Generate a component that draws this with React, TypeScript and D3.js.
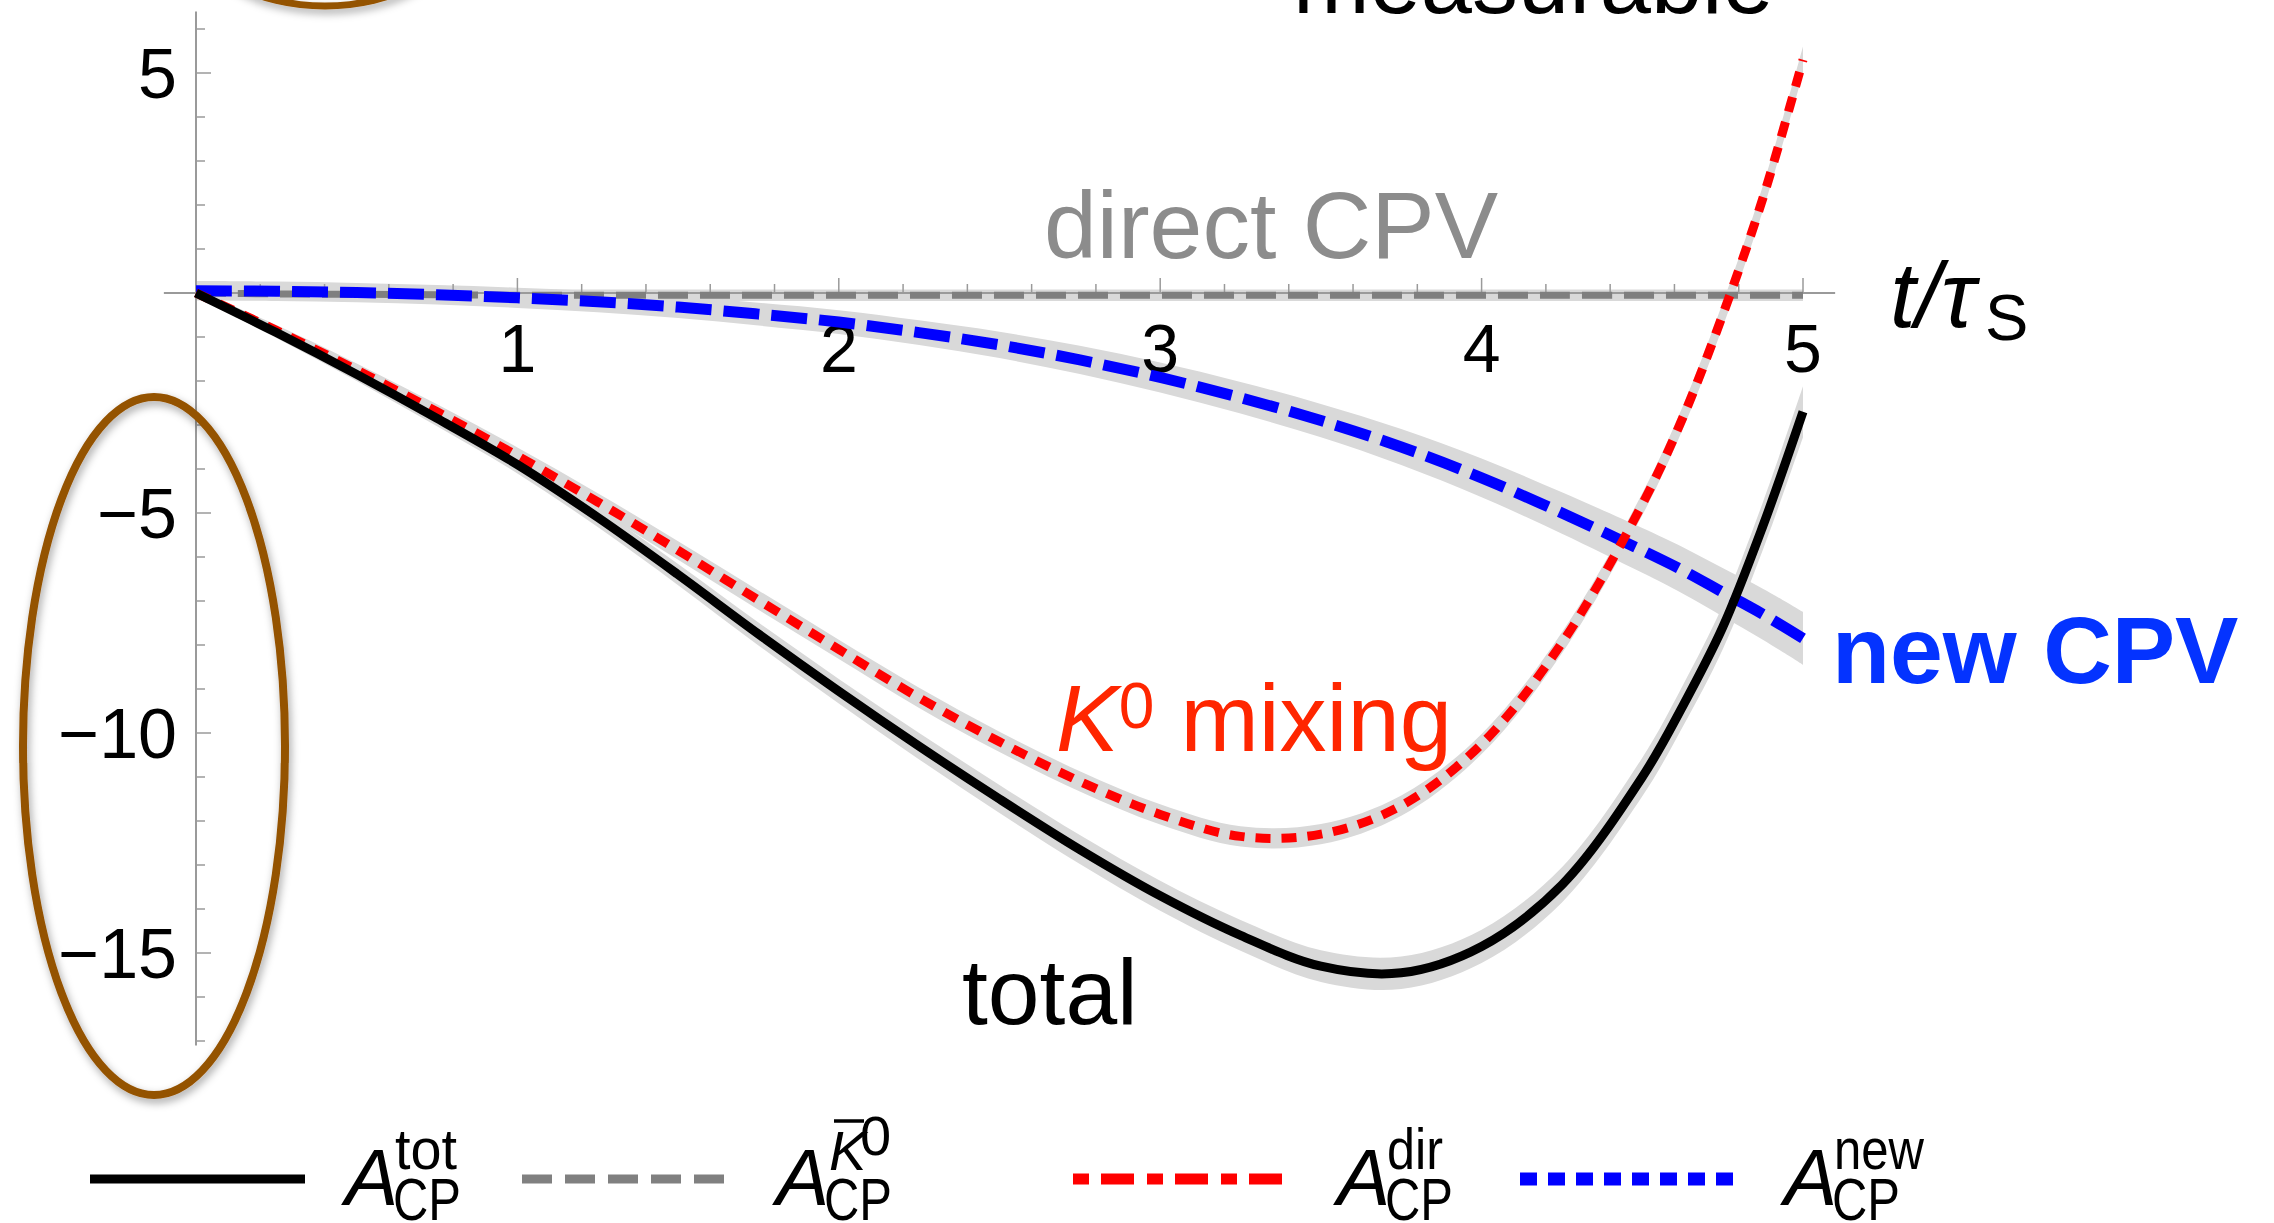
import React from 'react';
import * as d3 from 'd3';

// canvas
const W = 2274;
const H = 1223;
const FONT = "'Liberation Sans', Arial, Helvetica, sans-serif";

// time grid (t / tau_S)
const tValues = [0, 0.25, 0.5, 0.75, 1, 1.25, 1.5, 1.75, 2, 2.25, 2.5, 2.75, 3, 3.25, 3.5, 3.75, 4, 4.25, 4.5, 4.625, 4.75, 4.875, 5];

// asymmetries
const totValues = [0, -0.9, -1.85, -2.85, -3.9, -5.1, -6.4, -7.75, -9.05, -10.3, -11.5, -12.65, -13.7, -14.6, -15.3, -15.45, -14.85, -13.45, -11.0, -9.4, -7.6, -5.3, -2.7];
const mixValues = [0, -0.85, -1.75, -2.7, -3.7, -4.75, -5.85, -6.98, -8.1, -9.2, -10.2, -11.1, -11.85, -12.35, -12.3, -11.65, -10.25, -7.95, -4.8, -2.85, -0.5, 2.15, 5.3];
const newValues = [0.05, 0.04, 0.01, -0.04, -0.11, -0.2, -0.32, -0.48, -0.66, -0.9, -1.18, -1.52, -1.92, -2.38, -2.9, -3.5, -4.2, -5.0, -5.85, -6.3, -6.8, -7.3, -7.85];
const dirValues = [0, -0.02, -0.03, -0.04, -0.05, -0.05, -0.05, -0.05, -0.05, -0.05, -0.05, -0.05, -0.05, -0.05, -0.05, -0.05, -0.05, -0.05, -0.05, -0.05, -0.05, -0.05, -0.05];

// uncertainty half-widths (gray bands)
const totBand = [0.08, 0.12, 0.15, 0.18, 0.2, 0.22, 0.24, 0.26, 0.28, 0.3, 0.32, 0.33, 0.34, 0.35, 0.36, 0.37, 0.38, 0.4, 0.44, 0.47, 0.5, 0.54, 0.58];
const mixBand = [0.08, 0.12, 0.15, 0.17, 0.19, 0.2, 0.21, 0.22, 0.22, 0.23, 0.23, 0.23, 0.23, 0.23, 0.23, 0.23, 0.23, 0.24, 0.25, 0.26, 0.27, 0.28, 0.3];
const newBand = [0.22, 0.22, 0.22, 0.22, 0.23, 0.24, 0.25, 0.26, 0.27, 0.28, 0.3, 0.32, 0.34, 0.36, 0.38, 0.41, 0.44, 0.47, 0.51, 0.53, 0.55, 0.58, 0.6];
const dirBand = [0.13, 0.13, 0.13, 0.13, 0.13, 0.13, 0.13, 0.13, 0.13, 0.13, 0.13, 0.13, 0.13, 0.13, 0.13, 0.13, 0.13, 0.13, 0.13, 0.13, 0.13, 0.13, 0.13];

// axes
const xTickLabels = [1, 2, 3, 4, 5];
const yTickLabels = [5, -5, -10, -15];

const series = [
  { key: 'dir', values: dirValues, band: dirBand, color: '#7f7f7f', width: 7, dash: '30 12' },
  { key: 'new', values: newValues, band: newBand, color: '#0000ff', width: 11, dash: '36 12' },
  { key: 'mix', values: mixValues, band: mixBand, color: '#ff0000', width: 9, dash: '15 11' },
  { key: 'tot', values: totValues, band: totBand, color: '#000000', width: 9, dash: null },
];

const fmt = (v: number) => (v < 0 ? '\u2212' : '') + Math.abs(v);

export default function App() {
  const x = d3.scaleLinear().domain([0, 5]).range([196, 1803]);
  const y = d3.scaleLinear().domain([5, -15]).range([73, 953]);

  const curve = d3.curveCatmullRom.alpha(0.5);

  const line = (vals: number[]) =>
    d3.line<number>()
      .x((_, i) => x(tValues[i]))
      .y(d => y(d))
      .curve(curve)(vals) || '';

  const band = (vals: number[], hw: number[]) =>
    d3.area<number>()
      .x((_, i) => x(tValues[i]))
      .y0((d, i) => y(d - hw[i]))
      .y1((d, i) => y(d + hw[i]))
      .curve(curve)(vals) || '';

  const xMinor = d3.range(1, 26).map(i => i * 0.2).filter(v => Math.abs(v - Math.round(v)) > 1e-6);
  const yMinor = d3.range(-17, 7).filter(v => v % 5 !== 0);

  const axisColor = '#9a9a9a';

  const legend = [
    { x0: 90, x1: 305, color: '#000', width: 9, dash: null, ax: 345, sup: 'tot', supW: 62 },
    { x0: 522, x1: 727, color: '#808080', width: 9, dash: '30 13', ax: 776, sup: 'K0', supW: 0 },
    { x0: 1073, x1: 1282, color: '#ff0000', width: 11, dash: '16 12 33 13', ax: 1337, sup: 'dir', supW: 56 },
    { x0: 1520, x1: 1733, color: '#0000ff', width: 13, dash: '17 11', ax: 1784, sup: 'new', supW: 90 },
  ];

  return (
    <svg width={W} height={H} viewBox={`0 0 ${W} ${H}`}
      style={{ position: 'absolute', left: 0, top: 0, display: 'block', background: '#fff' }}
      fontFamily={FONT}>
      <defs>
        <filter id="shadow" x="-20%" y="-20%" width="140%" height="140%">
          <feDropShadow dx="2" dy="4" stdDeviation="4" floodColor="#000" floodOpacity="0.35" />
        </filter>
      </defs>
      <rect width={W} height={H} fill="#fff" />

      {/* partially visible heading at the top */}
      <text x={1293} y={13} fontSize={92} fill="#000">measurable</text>
      <ellipse cx={325} cy={-74} rx={132} ry={80} fill="none" stroke="#945200" strokeWidth={7} filter="url(#shadow)" />

      {/* bands */}
      {series.map(s => (
        <path key={'b' + s.key} d={band(s.values, s.band)} fill="#d9d9d9" />
      ))}

      {/* axes */}
      <line x1={x(-0.1)} x2={x(5.1)} y1={y(0)} y2={y(0)} stroke={axisColor} strokeWidth={2} />
      <line x1={x(0)} x2={x(0)} y1={y(6.4)} y2={y(-17.1)} stroke={axisColor} strokeWidth={2} />
      {xMinor.map(v => (
        <line key={'xm' + v} x1={x(v)} x2={x(v)} y1={y(0)} y2={y(0) - 9} stroke={axisColor} strokeWidth={1.5} />
      ))}
      {xTickLabels.map(v => (
        <g key={'xt' + v}>
          <line x1={x(v)} x2={x(v)} y1={y(0)} y2={y(0) - 15} stroke={axisColor} strokeWidth={1.5} />
          <text x={x(v)} y={372} fontSize={68} textAnchor="middle" fill="#000">{v}</text>
        </g>
      ))}
      {yMinor.map(v => (
        <line key={'ym' + v} x1={x(0)} x2={x(0) + 9} y1={y(v)} y2={y(v)} stroke={axisColor} strokeWidth={1.5} />
      ))}
      {yTickLabels.map(v => (
        <g key={'yt' + v}>
          <line x1={x(0)} x2={x(0) + 15} y1={y(v)} y2={y(v)} stroke={axisColor} strokeWidth={1.5} />
          <text x={177} y={y(v) + 25} fontSize={70} textAnchor="end" fill="#000">{fmt(v)}</text>
        </g>
      ))}

      {/* curves */}
      {series.map(s => (
        <path key={'l' + s.key} d={line(s.values)} fill="none" stroke={s.color}
          strokeWidth={s.width} strokeDasharray={s.dash || undefined} />
      ))}

      {/* axis label t/tau_S */}
      <text x={1890} y={327} fontSize={92} fontStyle="italic" fill="#000">t/τ</text>
      <text x={1985} y={340} fontSize={65} fill="#000">S</text>

      {/* annotations */}
      <text x={1044} y={258} fontSize={95} fill="#8c8c8c">direct CPV</text>
      <text x={1056} y={751} fontSize={94} fill="#ff2600">
        <tspan fontStyle="italic">K</tspan>
        <tspan fontSize={64} dy={-23}>0</tspan>
        <tspan dy={23}> mixing</tspan>
      </text>
      <text x={962} y={1024} fontSize={93} fill="#000">total</text>
      <text x={1832} y={683} fontSize={95} fontWeight="bold" fill="#0433ff">new CPV</text>

      {/* left axis highlight */}
      <ellipse cx={154} cy={746} rx={131} ry={349} fill="none" stroke="#945200" strokeWidth={8} filter="url(#shadow)" />

      {/* legend */}
      {legend.map(it => (
        <g key={'lg' + it.ax}>
          <line x1={it.x0} x2={it.x1} y1={1179} y2={1179} stroke={it.color} strokeWidth={it.width}
            strokeDasharray={it.dash || undefined} />
          <text x={it.ax} y={1205} fontSize={80} fontStyle="italic" fill="#000">A</text>
          {it.sup === 'K0' ? (
            <g>
              <text x={it.ax + 53} y={1170} fontSize={56} fontStyle="italic" fill="#000">K</text>
              <line x1={it.ax + 58} x2={it.ax + 88} y1={1121} y2={1121} stroke="#000" strokeWidth={3.5} />
              <text x={it.ax + 84} y={1155} fontSize={56} fill="#000">0</text>
            </g>
          ) : (
            <text x={it.ax + 50} y={1169} fontSize={58} fill="#000"
              textLength={it.supW} lengthAdjust="spacingAndGlyphs">{it.sup}</text>
          )}
          <text x={it.ax + 48} y={1220} fontSize={60} fill="#000"
            textLength={68} lengthAdjust="spacingAndGlyphs">CP</text>
        </g>
      ))}
    </svg>
  );
}
